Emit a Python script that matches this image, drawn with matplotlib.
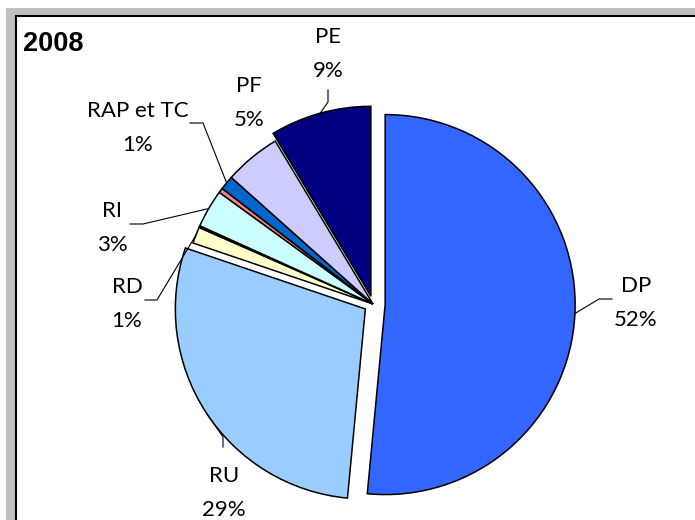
import matplotlib
matplotlib.use("Agg")
import matplotlib.pyplot as plt
import numpy as np
from matplotlib.patches import Rectangle

W, H = 695, 520  # taille de l'image en pixels (dpi=100)

# Répartition 2008 (%), dans le sens horaire à partir de midi
categories = ["DP", "RU", "RD", "", "RI", "", "RAP et TC", "PF", "PE"]
values = [51.5, 28.7, 1.4, 0.15, 3.25, 0.4, 1.2, 4.8, 8.6]

# Style des parts
colors = ["#3366FF", "#99CCFF", "#FFFFCC", "#4D4D80", "#CCFFFF",
          "#FF8080", "#0066CC", "#CCCCFF", "#000080"]
explode_frac = [0.064, 0.048, 0, 0, 0, 0, 0, 0, 0.042]  # fraction du rayon

# Placement des étiquettes (pixels image, origine en haut à gauche) :
# position du nom (ligne de base) + coude et extrémité du trait de rappel
label_layout = {
    "DP":        dict(xy=(636, 292), leader=[(599, 299), (612, 299)]),
    "RU":        dict(xy=(224, 482), leader=[(223, 437), (223, 447)]),
    "RD":        dict(xy=(127, 293), leader=[(157, 300), (145, 300)]),
    "RI":        dict(xy=(112, 217), leader=[(143, 224), (130, 224)]),
    "RAP et TC": dict(xy=(138, 117), leader=[(203, 123), (190, 123)]),
    "PF":        dict(xy=(249, 92),  leader=None),
    "PE":        dict(xy=(328, 43),  leader=[(328, 102), (328, 90)]),
}
LINE_GAP = 34          # écart entre le nom et le pourcentage
PIE_CENTER = (373, 304)
PIE_RADIUS = 190
LABEL_FONT = "Lato"


def py(y):
    """Pixel image (y vers le bas) -> coordonnée données (y vers le haut)."""
    return H - y


fig = plt.figure(figsize=(W / 100, H / 100), dpi=100)
fig.patch.set_facecolor("white")

# Cadre gris façon Excel (coupé à droite et en bas)
fig.patches.append(Rectangle((6 / W, 0), 1, (H - 8) / H, transform=fig.transFigure,
                             facecolor="#C0C0C0", edgecolor="none", zorder=-3))
fig.patches.append(Rectangle((16 / W, -0.1), 1.2, (H - 16) / H + 0.1,
                             transform=fig.transFigure, facecolor="white",
                             edgecolor="black", linewidth=1.5, zorder=-2))

ax = fig.add_axes([0, 0, 1, 1])
ax.patch.set_alpha(0)

# l'écartement de pie() est en unités de données -> on le ramène au rayon
wedges, _ = ax.pie(
    values,
    colors=colors,
    explode=[e * PIE_RADIUS for e in explode_frac],
    startangle=90,
    counterclock=False,
    radius=PIE_RADIUS,
    center=(PIE_CENTER[0], py(PIE_CENTER[1])),
    wedgeprops=dict(edgecolor="black", linewidth=1.1),
)
ax.set_xlim(0, W)
ax.set_ylim(0, H)
ax.set_aspect("equal")
ax.axis("off")

for wedge, name, val in zip(wedges, categories, values):
    if not name:
        continue
    lay = label_layout[name]
    tx, ty = lay["xy"]
    ax.text(tx, py(ty), name, ha="center", va="baseline",
            fontsize=16, family=LABEL_FONT)
    ax.text(tx, py(ty + LINE_GAP), f"{round(val):.0f}%", ha="center",
            va="baseline", fontsize=16, family=LABEL_FONT)

    if lay["leader"]:
        # point d'accroche : milieu de l'arc de la part
        mid = np.deg2rad((wedge.theta1 + wedge.theta2) / 2)
        cx, cy = wedge.center
        ax_pt = (cx + wedge.r * np.cos(mid), cy + wedge.r * np.sin(mid))
        xs = [ax_pt[0]] + [p[0] for p in lay["leader"]]
        ys = [ax_pt[1]] + [py(p[1]) for p in lay["leader"]]
        ax.plot(xs, ys, color="black", linewidth=0.8)

fig.text(23 / W, 1 - 51 / H, "2008", fontsize=19.5, fontweight="bold",
         family="Liberation Sans", ha="left", va="baseline")

fig.savefig("out.png", dpi=100)
